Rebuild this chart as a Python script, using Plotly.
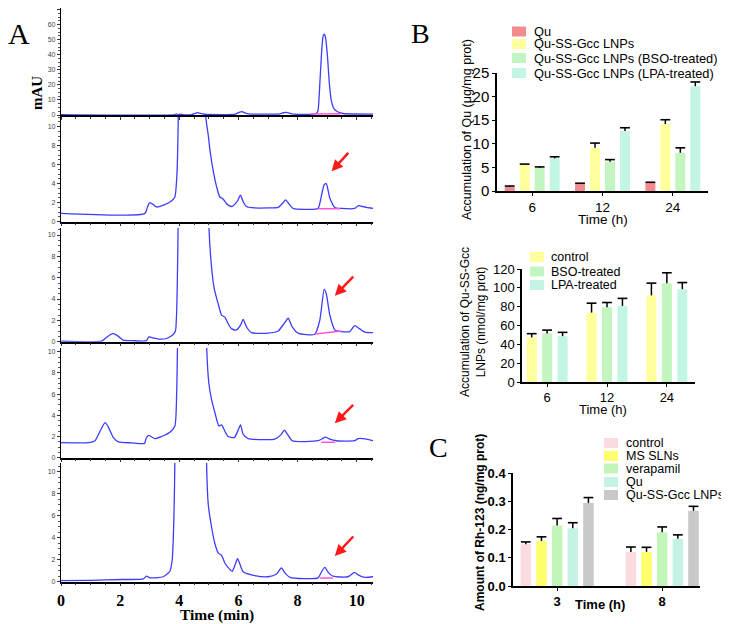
import plotly.graph_objects as go

# ---------------- A: HPLC traces (time in min, signal in mAU) ----------------
t1 = [0, 3.85, 3.9, 3.97, 4.03, 4.12, 4.28, 4.42, 4.55, 4.62, 4.72, 4.85, 5.9, 6.02, 6.12,
      6.22, 6.35, 7.4, 7.52, 7.62, 7.72, 7.85, 8.52, 8.64, 8.69, 8.75, 8.81, 8.86, 8.9, 8.94,
      9.01, 9.07, 9.14, 9.23, 9.37, 9.54, 10.55]
y1 = [0.2, 0.2, 0.7, 0.3, 0.6, 0.2, 0.0, 0.3, 1.2, 1.6, 1.0, 0.5, 0.6, 1.8, 2.3,
      1.4, 0.7, 0.8, 1.5, 1.7, 1.2, 0.6, 0.6, 1.2, 3, 20, 41, 52, 53.6, 52,
      39, 22, 9.6, 4.3, 2.0, 1.0, 0.6]

t2 = [0, 2.84, 2.93, 3.0, 3.12, 3.23, 3.51, 3.74, 3.85, 3.92, 3.97, 4.1, 4.75, 4.85, 4.89,
      4.98, 5.03, 5.15, 5.26, 5.37, 5.48, 5.6, 5.77, 5.97, 6.07, 6.16, 6.27, 6.55, 7.0, 7.34,
      7.51, 7.59, 7.68, 7.85, 8.36, 8.69, 8.81, 8.9, 8.97, 9.09, 9.26, 9.48, 9.93, 10.06,
      10.21, 10.33, 10.55]
y2 = [0.88, 0.88, 1.6, 2.0, 1.8, 1.55, 1.8, 2.2, 2.6, 5, 12, 80, 60, 30, 11.2,
      9.1, 7.7, 5.3, 3.7, 2.6, 2.4, 1.9, 1.6, 2.2, 2.8, 2.1, 1.6, 1.45, 1.45, 1.5,
      2.0, 2.3, 2.0, 1.4, 1.3, 1.4, 2.8, 3.9, 4.0, 2.5, 1.5, 1.4, 1.4, 1.7,
      1.6, 1.5, 1.4]

t3 = [0, 1.37, 1.49, 1.66, 1.77, 1.94, 2.1, 2.39, 2.89, 2.97, 3.12, 3.29, 3.57, 3.8, 3.87,
      3.93, 3.96, 4.1, 4.8, 4.95, 5.0, 5.09, 5.18, 5.32, 5.43, 5.54, 5.65, 5.77, 5.93, 6.08,
      6.16, 6.27, 6.44, 7.0, 7.34, 7.57, 7.68, 7.82, 8.02, 8.58, 8.75, 8.9, 8.97, 9.09,
      9.26, 9.48, 9.76, 9.93, 10.1, 10.27, 10.55]
y3 = [0.05, 0.05, 0.3, 0.65, 0.75, 0.5, 0.15, 0.1, 0.1, 0.45, 0.35, 0.25, 0.3, 0.7, 1.0,
      5, 11, 80, 60, 30, 11, 7, 5, 3.5, 2.5, 2.3, 1.7, 1.2, 1.1, 1.6,
      2.1, 1.4, 0.85, 0.8, 1.0, 1.8, 2.2, 1.4, 0.8, 0.7, 2.0, 4.9, 4.5, 2.5,
      1.1, 0.95, 0.95, 1.5, 1.2, 0.9, 0.85]

t4 = [0, 0.92, 1.15, 1.32, 1.49, 1.6, 1.77, 1.94, 2.39, 2.82, 2.89, 2.97, 3.18, 3.4, 3.68,
      3.85, 3.91, 3.94, 4.1, 4.75, 4.88, 4.92, 5.0, 5.09, 5.2, 5.34, 5.43, 5.54, 5.65, 5.86,
      5.99, 6.07, 6.16, 6.33, 6.89, 7.23, 7.45, 7.55, 7.66, 7.82, 8.69, 8.84, 8.94, 9.09,
      9.31, 9.93, 10.05, 10.33, 10.55]
y4 = [1.42, 1.42, 1.6, 2.5, 3.3, 2.9, 1.9, 1.5, 1.4, 1.35, 1.9, 2.1, 1.8, 2.0, 2.4,
      3.0, 6, 11, 80, 60, 30, 11, 7, 5.5, 4.3, 3.0, 3.1, 2.5, 2.0, 1.9,
      2.6, 3.1, 2.2, 1.8, 1.7, 1.75, 2.2, 2.6, 2.2, 1.6, 1.6, 1.8, 1.95, 1.75,
      1.6, 1.6, 1.8, 1.75, 1.6]

t5 = [0, 1.0, 2.05, 2.78, 2.89, 3.01, 3.18, 3.46, 3.68, 3.76, 3.82, 3.85, 4.0, 4.75, 4.88,
      4.92, 4.98, 5.09, 5.2, 5.32, 5.43, 5.54, 5.65, 5.79, 5.88, 5.97, 6.05, 6.16, 6.55, 7.0,
      7.29, 7.45, 7.57, 7.74, 8.69, 8.81, 8.92, 9.05, 9.2, 9.7, 9.93, 10.06, 10.27, 10.55]
y5 = [0.1, 0.12, 0.2, 0.25, 0.5, 0.35, 0.35, 0.45, 0.95, 2, 6, 11, 80, 60, 30,
      11, 7, 5, 3.5, 2.6, 2.4, 1.7, 1.3, 0.95, 1.5, 2.1, 1.6, 0.9, 0.55, 0.45,
      0.7, 1.25, 0.8, 0.4, 0.35, 0.9, 1.3, 0.8, 0.5, 0.45, 0.85, 0.6, 0.4, 0.45]

# integration baselines (pink) under the Qu peak
base_t = [[8.45, 9.48], [8.69, 9.43], [8.58, 9.48], [8.8, 9.26], [8.75, 9.2]]
base_y = [[0.6, 0.9], [1.37, 1.37], [0.72, 1.0], [1.45, 1.45], [0.33, 0.33]]

# red arrows pointing at the Qu peak: (head t, head y, tail t, tail y)
arrows = {2: (9.15, 5.3, 9.76, 7.4), 3: (9.26, 4.31, 9.93, 6.25),
          4: (9.26, 3.25, 9.93, 5.13), 5: (9.26, 2.33, 9.93, 4.25)}

# ---------------- B: accumulation of Qu ----------------
times_b = ['6', '12', '24']
names_b1 = ['Qu', 'Qu-SS-Gcc LNPs', 'Qu-SS-Gcc LNPs (BSO-treated)', 'Qu-SS-Gcc LNPs (LPA-treated)']
colors_b1 = ['#F38B8E', '#FFFF9C', '#C3F5C0', '#C2F5E4']
vals_b1 = [[0.9, 1.5, 1.75], [5.6, 9.15, 14.2], [4.9, 6.2, 8.1], [6.9, 12.7, 22.2]]
errs_b1 = [[0.15, 0.15, 0.1], [0.1, 1.0, 0.9], [0.2, 0.45, 1.05], [0.35, 0.7, 0.9]]

names_b2 = ['control', 'BSO-treated', 'LPA-treated']
colors_b2 = ['#FFFF9C', '#C3F5C0', '#C2F5E4']
vals_b2 = [[47.3, 73.7, 92], [51.6, 79.4, 105], [48.7, 80.8, 98.6]]
errs_b2 = [[4, 10, 13], [3.5, 5, 11], [4, 8, 7]]

# ---------------- C: Rh-123 ----------------
times_c = ['3', '8']
names_c = ['control', 'MS SLNs', 'verapamil', 'Qu', 'Qu-SS-Gcc LNPs']
colors_c = ['#FADCE0', '#FFFF6E', '#C3F5B8', '#C4F2E6', '#C8C8C8']
vals_c = [[0.148, 0.12], [0.159, 0.121], [0.214, 0.19], [0.204, 0.167], [0.294, 0.266]]
errs_c = [[0.008, 0.018], [0.015, 0.016], [0.025, 0.019], [0.02, 0.014], [0.019, 0.016]]

# the page body keeps its default 8px margin, so the figure is laid out
# in window pixels minus that offset
OFF = 8
W, H = 729 - OFF, 624 - OFF
def px(x):
    return (x - OFF) / W
def py(y):
    return 1 - (y - OFF) / H

fig = go.Figure()
serif = 'Liberation Serif'
sans = 'Liberation Sans'

# panel A layout: (window y of 0, window y of top, top value, dtick)
panelsA = [(115, 8, 71, 10), (221.7, 117, 11.02, 2), (341.7, 228, 10.66, 2),
           (457.7, 348, 10.35, 2), (581.7, 463, 10.8, 2)]
traces = [(t1, y1), (t2, y2), (t3, y3), (t4, y4), (t5, y5)]

layout = {}
for i, ((p0, ptop, top, dt), (tt, yy)) in enumerate(zip(panelsA, traces), start=1):
    sfx = '' if i == 1 else str(i)
    fig.add_trace(go.Scatter(x=tt, y=yy, mode='lines', line=dict(color='#3d3dff', width=1.3, shape='spline', smoothing=0.6),
                             xaxis='x' + sfx, yaxis='y' + sfx, showlegend=False))
    fig.add_trace(go.Scatter(x=base_t[i - 1], y=base_y[i - 1], mode='lines', line=dict(color='#ff55dd', width=1.5),
                             xaxis='x' + sfx, yaxis='y' + sfx, showlegend=False))
    layout['xaxis' + sfx] = dict(domain=[px(61), px(373)], range=[0, 10.55], anchor='y' + sfx, automargin=False,
                                 showline=True, linecolor='black', linewidth=1.5, showgrid=False, zeroline=False,
                                 ticks='outside', ticklen=3, tickcolor='#333', dtick=2,
                                 minor=dict(dtick=0.5, ticks='outside', ticklen=2, tickcolor='#333'),
                                 showticklabels=(i == 5),
                                 tickfont=dict(family=serif, size=16, color='black', weight='bold'))
    layout['yaxis' + sfx] = dict(domain=[py(p0), min(1, py(ptop))], range=[0, top], anchor='x' + sfx, automargin=False,
                                 showline=True, linecolor='black', linewidth=1.2, showgrid=False, zeroline=False,
                                 ticks='outside', ticklen=3, tickcolor='#333', dtick=dt,
                                 minor=dict(dtick=dt / 4, ticks='outside', ticklen=1.5, tickcolor='#555'),
                                 tickfont=dict(family=sans, size=7, color='#444'))

annotations = []
for i, (ht, hv, tt_, tv) in arrows.items():
    annotations.append(dict(x=ht, y=hv, ax=tt_, ay=tv, xref='x%d' % i, yref='y%d' % i,
                            axref='x%d' % i, ayref='y%d' % i, text='', showarrow=True,
                            arrowcolor='#ff1a1a', arrowwidth=2.5, arrowhead=2, arrowsize=0.9))


def add_bars(names, colors, vals, errs, cats, ax_n, width, slot):
    n = len(names)
    pos = list(range(len(cats)))
    for k in range(n):
        shift = (k - (n - 1) / 2) * slot
        # bar + upward error stem (no cross-bar at the bar top)
        fig.add_trace(go.Bar(x=pos, y=vals[k], name=names[k], marker=dict(color=colors[k], line=dict(width=0)),
                             width=width, offset=shift - width / 2,
                             error_y=dict(type='data', array=errs[k], arrayminus=[0] * len(cats), symmetric=False,
                                          color='black', thickness=1.5, width=0),
                             xaxis='x%d' % ax_n, yaxis='y%d' % ax_n, showlegend=False))
        # cap of the error bar
        fig.add_trace(go.Scatter(x=[p + shift for p in pos], y=[v + e for v, e in zip(vals[k], errs[k])],
                                 mode='markers', marker=dict(symbol='line-ew', size=7, line=dict(color='black', width=1.6)),
                                 xaxis='x%d' % ax_n, yaxis='y%d' % ax_n, showlegend=False, hoverinfo='skip'))


def add_legend(names, colors, x_box, x_text, ys, size):
    for name, c, yy in zip(names, colors, ys):
        fig.add_shape(type='rect', xref='paper', yref='paper', x0=px(x_box), x1=px(x_box + 14),
                      y0=py(yy + 5), y1=py(yy - 5), fillcolor=c, line=dict(width=0))
        annotations.append(dict(x=px(x_text), y=py(yy), xref='paper', yref='paper', text=name,
                                showarrow=False, xanchor='left', yanchor='middle',
                                font=dict(family=sans, size=size, color='black')))


add_bars(names_b1, colors_b1, vals_b1, errs_b1, times_b, 6, 0.142, 0.213)
add_bars(names_b2, colors_b2, vals_b2, errs_b2, times_b, 7, 0.167, 0.258)
add_bars(names_c, colors_c, vals_c, errs_c, times_c, 8, 0.1, 0.149)

ax_common = dict(showline=True, linecolor='black', linewidth=1.5, showgrid=False, zeroline=False,
                 ticks='outside', ticklen=3, tickcolor='black', automargin=False)
layout['xaxis6'] = dict(ax_common, domain=[px(497), px(708)], range=[-0.5, 2.5], anchor='y6',
                        tickvals=[0, 1, 2], ticktext=times_b,
                        tickfont=dict(family=sans, size=13.5, color='black'))
layout['yaxis6'] = dict(ax_common, domain=[py(191), py(73)], range=[0, 25], dtick=5, anchor='x6',
                        tickfont=dict(family=sans, size=15, color='black'))
layout['xaxis7'] = dict(ax_common, domain=[px(522), px(695)], range=[-0.42, 2.47], anchor='y7',
                        tickvals=[0, 1, 2], ticktext=times_b,
                        tickfont=dict(family=sans, size=13, color='black'))
layout['yaxis7'] = dict(ax_common, domain=[py(382), py(269)], range=[0, 120], dtick=20, anchor='x7',
                        tickfont=dict(family=sans, size=13, color='black'))
layout['xaxis8'] = dict(ax_common, domain=[px(513), px(700)], range=[-0.42, 1.36], anchor='y8',
                        tickvals=[0, 1], ticktext=times_c,
                        tickfont=dict(family=sans, size=13, color='black', weight='bold'))
layout['yaxis8'] = dict(ax_common, domain=[py(586), py(473)], range=[0, 0.4], dtick=0.1, tickformat='.1f',
                        anchor='x8', tickfont=dict(family=sans, size=13, color='black', weight='bold'))

add_legend(names_b1, colors_b1, 512, 532, [31.5, 44, 58, 73], 12.8)
add_legend(names_b2, colors_b2, 530, 549, [257, 271.5, 285], 12.5)
add_legend(names_c, colors_c, 604, 624, [443, 456, 468.5, 482, 495], 12.5)


def label(x, y, text, size, family=sans, angle=0):
    annotations.append(dict(x=px(x), y=py(y), xref='paper', yref='paper', text=text, showarrow=False,
                            textangle=angle, xanchor='center', yanchor='middle',
                            font=dict(family=family, size=size, color='black')))


label(19, 33, 'A', 30, serif)
label(420, 33, 'B', 28, serif)
label(439, 447, 'C', 28, serif)
label(37, 93, '<b>mAU</b>', 15, serif, -90)
label(217, 615, '<b>Time (min)</b>', 15.5, serif)
label(467, 130, 'Accumulation of Qu (μg/mg prot)', 12.5, sans, -90)
label(603, 220, 'Time (h)', 13.5)
label(473, 322, 'Accumulation of Qu-SS-Gcc<br>LNPs (nmol/mg prot)', 12, sans, -90)
label(603, 409, 'Time (h)', 13)
label(480, 523, '<b>Amount of Rh-123 (ng/mg prot)</b>', 12, sans, -90)
label(600, 604, '<b>Time (h)</b>', 13)

fig.update_layout(width=W, height=H, margin=dict(l=0, r=0, t=0, b=0, autoexpand=False), plot_bgcolor='white',
                  paper_bgcolor='white', showlegend=False, annotations=annotations, **layout)

fig.write_html("out.html")
